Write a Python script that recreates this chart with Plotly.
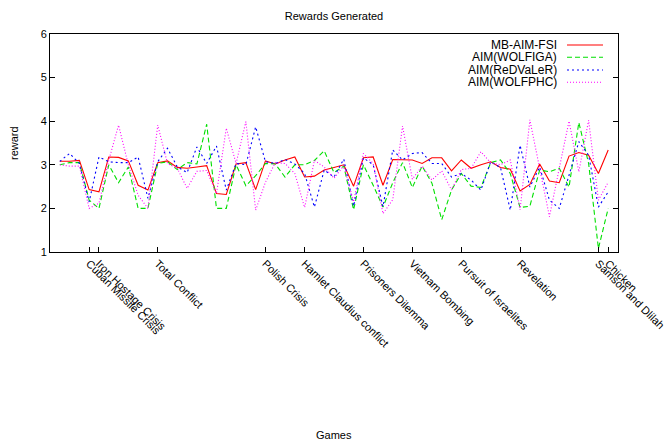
import plotly.graph_objects as go

games_idx = list(range(1, 58))

mb_aim_fsi = [3.08, 3.08, 3.10, 2.43, 2.38, 3.18, 3.17, 3.09, 2.53, 2.42,
              3.05, 3.09, 2.94, 2.92, 2.95, 2.98, 2.34, 2.32, 3.02, 3.05,
              2.43, 3.09, 3.02, 3.11, 3.18, 2.72, 2.74, 2.88, 2.94, 3.00,
              2.51, 3.16, 3.18, 2.53, 3.12, 3.12, 3.11, 3.03, 3.16, 3.16,
              2.86, 3.11, 2.92, 3.00, 3.07, 2.94, 2.90, 2.40, 2.55, 3.02,
              2.63, 2.59, 3.20, 3.28, 3.22, 2.80, 3.34]

aim_wolfiga = [3.00, 3.05, 3.05, 2.19, 2.00, 3.00, 2.59, 2.95, 2.00, 2.00,
               3.03, 3.07, 2.89, 3.05, 3.02, 3.93, 2.00, 2.00, 3.00, 2.52,
               2.75, 3.03, 3.02, 2.72, 3.00, 3.00, 3.10, 3.32, 2.82, 2.97,
               1.97, 3.00, 2.53, 2.03, 2.59, 3.05, 2.48, 2.97, 2.58, 1.74,
               2.42, 2.80, 2.51, 2.48, 3.05, 3.11, 2.80, 2.02, 2.05, 2.88,
               2.84, 2.92, 2.49, 3.97, 3.03, 1.08, 2.00]

aim_redvaler = [3.08, 3.26, 3.03, 2.15, 3.18, 3.07, 3.05, 3.05, 3.18, 2.23,
                3.07, 3.38, 2.95, 2.82, 3.41, 3.03, 3.43, 2.42, 3.03, 3.00,
                3.87, 3.07, 3.03, 3.12, 3.02, 2.80, 2.03, 2.88, 2.72, 3.13,
                2.05, 3.16, 3.00, 2.04, 3.34, 3.11, 3.26, 3.28, 3.03, 3.03,
                2.72, 2.80, 2.65, 2.42, 3.07, 2.94, 1.96, 3.45, 2.49, 2.95,
                2.19, 2.00, 2.76, 3.53, 3.22, 2.03, 2.38]

aim_wolfphc = [3.00, 2.97, 2.97, 2.00, 2.12, 3.10, 3.91, 3.00, 2.30, 2.00,
               3.91, 3.03, 2.92, 2.46, 2.85, 2.87, 2.34, 3.84, 3.03, 3.99,
               1.96, 2.60, 3.05, 3.03, 2.80, 2.02, 3.10, 2.95, 2.69, 2.98,
               2.15, 3.26, 3.03, 1.88, 2.20, 3.89, 2.67, 2.97, 2.65, 2.86,
               2.42, 2.89, 2.92, 3.30, 3.05, 3.00, 3.11, 1.97, 4.03, 2.92,
               1.81, 2.92, 4.00, 2.84, 4.02, 2.19, 2.60]

tick_positions = [4, 5, 11, 22, 26, 32, 37, 42, 48, 56, 57]
tick_labels = ["Cuban Missile Crisis", "Iron Hostage Crisis", "Total Conflict",
               "Polish Crisis", "Hamlet Claudius conflict", "Prisoners Dilemma",
               "Vietnam Bombing", "Pursuit of Israelites", "Revelation",
               "Samson and Dlilah", "Chicken"]

series_names = ["MB-AIM-FSI", "AIM(WOLFIGA)", "AIM(ReDVaLeR)", "AIM(WOLFPHC)"]
series_vals = [mb_aim_fsi, aim_wolfiga, aim_redvaler, aim_wolfphc]
colors = ["#ff0000", "#00e000", "#0000ff", "#ff00ff"]
dashes = ["solid", "5px,3px", "2px,3px", "1px,2px"]

FONT = "Liberation Sans, Arial, sans-serif"

fig = go.Figure()
for name, vals, c, d in zip(series_names, series_vals, colors, dashes):
    fig.add_trace(go.Scatter(x=games_idx, y=vals, mode="lines", name=name,
                             line=dict(color=c, width=1.1, dash=d),
                             showlegend=False))

W, H = 667, 443
L, R, T, B = 50, 618, 34, 252
pw, ph = R - L, B - T

def px(x):
    return (x - L) / pw

def py(y):
    return (B - y) / ph

annotations = [
    dict(text="reward", x=px(14), y=py(143), xref="paper", yref="paper",
         xanchor="center", yanchor="middle",
         showarrow=False, textangle=-90, font=dict(size=11, color="black", family=FONT)),
    dict(text="Games", x=px(334), y=py(435), xref="paper", yref="paper",
         xanchor="center", yanchor="middle",
         showarrow=False, font=dict(size=11, color="black", family=FONT)),
]
shapes = []
leg_y = [45, 57.3, 70, 82.3]
for name, c, d, yy in zip(series_names, colors, dashes, leg_y):
    annotations.append(dict(text=name, x=px(558), y=py(yy), xref="paper", yref="paper",
                            xanchor="right", yanchor="middle", showarrow=False,
                            borderpad=0,
                            font=dict(size=12, color="black", family=FONT)))
    shapes.append(dict(type="line", xref="paper", yref="paper",
                       x0=px(567), x1=px(603), y0=py(yy), y1=py(yy),
                       line=dict(color=c, width=1.1, dash=d)))

fig.update_layout(
    width=W, height=H,
    margin=dict(l=L, r=W - R, t=T, b=H - B, pad=0),
    paper_bgcolor="white", plot_bgcolor="white",
    font=dict(family=FONT, size=11, color="black"),
    title=dict(text="Rewards Generated", x=334 / W, xref="container",
               y=1 - 16 / H, yref="container", xanchor="center", yanchor="middle",
               font=dict(size=11, color="black", family=FONT)),
    annotations=annotations,
    shapes=shapes,
    xaxis=dict(range=[0, 58], tickmode="array", tickvals=tick_positions,
               ticktext=tick_labels, tickangle=45, ticks="inside", ticklen=5,
               tickcolor="black", showgrid=False, zeroline=False,
               showline=True, linecolor="black", linewidth=1, mirror=True,
               ticklabeloverflow="allow",
               automargin=False, tickfont=dict(size=11, family=FONT, color="black")),
    yaxis=dict(range=[1, 6], tickmode="array", tickvals=[1, 2, 3, 4, 5, 6],
               ticks="inside", ticklen=5, tickcolor="black", showgrid=False,
               zeroline=False, showline=True, linecolor="black", linewidth=1,
               mirror="allticks", automargin=False,
               tickfont=dict(size=11, family=FONT, color="black")),
)

fig.write_html("out.html")
